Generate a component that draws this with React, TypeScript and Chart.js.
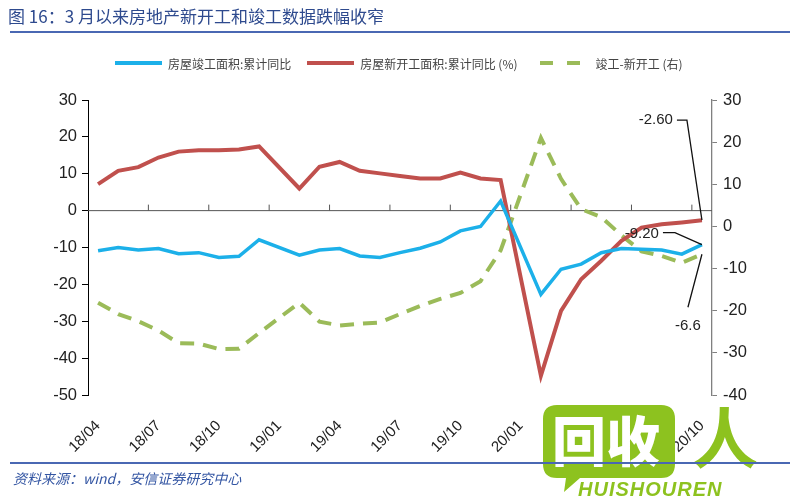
import React, { useEffect, useRef } from "react";
import { Chart, registerables } from "chart.js";

Chart.register(...registerables);

const months = [
  "18/04", "18/05", "18/06", "18/07", "18/08", "18/09", "18/10", "18/11", "18/12",
  "19/01", "19/02", "19/03", "19/04", "19/05", "19/06", "19/07", "19/08", "19/09", "19/10", "19/11", "19/12",
  "20/01", "20/02", "20/03", "20/04", "20/05", "20/06", "20/07", "20/08", "20/09", "20/10",
];

// 房屋竣工面积:累计同比 (left axis)
const completionYoY: (number | null)[] = [
  -10.9, -10.0, -10.7, -10.3, -11.7, -11.4, -12.7, -12.4, -7.9,
  null, -12.1, -10.7, -10.3, -12.3, -12.7, -11.4, -10.2, -8.5, -5.5, -4.3, 2.6,
  null, -22.7, -15.9, -14.5, -11.4, -10.3, -10.5, -10.7, -11.8, -9.2,
];

// 房屋新开工面积:累计同比 (%) (left axis)
const newStartYoY: (number | null)[] = [
  7.2, 10.8, 11.8, 14.4, 16.0, 16.4, 16.4, 16.6, 17.4,
  null, 6.0, 11.9, 13.2, 10.8, 10.1, 9.4, 8.7, 8.7, 10.3, 8.7, 8.3,
  null, -44.8, -27.2, -18.6, -13.6, -8.2, -4.6, -3.7, -3.2, -2.6,
];

// 竣工-新开工 (右)
const gapRight: (number | null)[] = [
  -18.1, -20.8, -22.5, -24.7, -27.7, -27.8, -29.1, -29.0, -25.3,
  null, -18.1, -22.6, -23.5, -23.1, -22.8, -20.8, -18.9, -17.2, -15.8, -13.0, -5.7,
  null, 21.0, 11.3, 4.1, 2.2, -2.1, -5.9, -7.0, -8.6, -6.6,
];

const leftMin = -50;
const leftMax = 30;
const rightMin = -40;
const rightMax = 30;
const tickStep = 10;

const seriesNames = ["房屋竣工面积:累计同比", "房屋新开工面积:累计同比 (%)", "竣工-新开工 (右)"];
const seriesColors = ["#1cb0e9", "#c0504d", "#9bbb59"];

const titleText = "图 16：3 月以来房地产新开工和竣工数据跌幅收窄";
const sourceText = "资料来源：wind，安信证券研究中心";

const zeroAxisPlugin = {
  id: "zeroAxis",
  beforeDatasetsDraw(chart: any) {
    const { ctx, chartArea, scales } = chart;
    const x = scales.x;
    const y = scales.y;
    const yz = y.getPixelForValue(0);
    ctx.save();
    ctx.strokeStyle = "#555";
    ctx.lineWidth = 1;
    ctx.beginPath();
    ctx.moveTo(chartArea.left, yz);
    ctx.lineTo(chartArea.right, yz);
    for (let i = 2; i < months.length - 1; i += 3) {
      const xb = (x.getPixelForValue(i) + x.getPixelForValue(i + 1)) / 2;
      ctx.moveTo(xb, yz);
      ctx.lineTo(xb, yz - 6);
    }
    ctx.stroke();
    ctx.restore();
  },
};

const annotatePlugin = {
  id: "annotate",
  afterDatasetsDraw(chart: any) {
    const { ctx, scales } = chart;
    const last = months.length - 1;
    const px = scales.x.getPixelForValue(last);
    const red = newStartYoY[last] as number;
    const blue = completionYoY[last] as number;
    const green = gapRight[last] as number;
    const pr = scales.y.getPixelForValue(red);
    const pb = scales.y.getPixelForValue(blue);
    const pg = scales.y1.getPixelForValue(green);
    ctx.save();
    ctx.strokeStyle = "#111";
    ctx.lineWidth = 1.3;
    ctx.beginPath();
    ctx.moveTo(px, pr);
    ctx.lineTo(px - 15, pr - 100);
    ctx.lineTo(px - 25, pr - 100);
    ctx.moveTo(px, pb);
    ctx.lineTo(px - 27, pb - 12);
    ctx.lineTo(px - 39, pb - 12);
    ctx.moveTo(px, pg);
    ctx.lineTo(px - 14, pg + 53);
    ctx.stroke();
    ctx.fillStyle = "#222";
    ctx.font = '15px "Liberation Sans", Arial, sans-serif';
    ctx.textBaseline = "middle";
    ctx.textAlign = "right";
    ctx.fillText(red.toFixed(2), px - 29, pr - 100);
    ctx.fillText(blue.toFixed(2), px - 43, pb - 11);
    ctx.textAlign = "center";
    ctx.fillText(green.toFixed(1), px - 14, pg + 72);
    ctx.restore();
  },
};

function LegendLine({ color, dashed }: { color: string; dashed?: boolean }) {
  if (dashed) {
    return (
      <span style={{ display: "inline-flex", width: 40, justifyContent: "space-between", marginRight: 16 }}>
        <span style={{ width: 13, height: 4, background: color, display: "inline-block" }} />
        <span style={{ width: 13, height: 4, background: color, display: "inline-block" }} />
      </span>
    );
  }
  return <span style={{ width: 47, height: 4, background: color, display: "inline-block", marginRight: 6 }} />;
}

export default function App() {
  const ref = useRef<HTMLCanvasElement>(null);

  useEffect(() => {
    if (!ref.current) return;
    const chart = new Chart(ref.current, {
      type: "line",
      data: {
        labels: months,
        datasets: [
          {
            label: seriesNames[0],
            data: completionYoY,
            borderColor: seriesColors[0],
            backgroundColor: seriesColors[0],
            borderWidth: 3.5,
            pointRadius: 0,
            spanGaps: true,
            yAxisID: "y",
          },
          {
            label: seriesNames[1],
            data: newStartYoY,
            borderColor: seriesColors[1],
            backgroundColor: seriesColors[1],
            borderWidth: 4,
            pointRadius: 0,
            spanGaps: true,
            yAxisID: "y",
          },
          {
            label: seriesNames[2],
            data: gapRight,
            borderColor: seriesColors[2],
            backgroundColor: seriesColors[2],
            borderWidth: 4,
            borderDash: [14, 9],
            pointRadius: 0,
            spanGaps: true,
            yAxisID: "y1",
          },
        ],
      },
      options: {
        animation: false,
        responsive: true,
        maintainAspectRatio: false,
        layout: { padding: { top: 100, left: 0, right: 0, bottom: 0 } },
        plugins: {
          legend: { display: false },
          tooltip: { enabled: false },
        },
        scales: {
          x: {
            type: "category",
            offset: true,
            grid: { display: false, drawTicks: false },
            border: { display: false },
            ticks: {
              autoSkip: false,
              minRotation: 45,
              maxRotation: 45,
              padding: 22,
              color: "#222",
              font: { family: '"Liberation Sans", Arial, sans-serif', size: 15 },
              callback: (_v: any, i: number) => (i % 3 === 0 ? months[i] : ""),
            },
            afterFit: (s: any) => {
              s.height = 105;
            },
          },
          y: {
            position: "left",
            min: leftMin,
            max: leftMax,
            grid: { drawOnChartArea: false, tickLength: 6, color: "#000" },
            border: { color: "#000", width: 1 },
            ticks: {
              stepSize: tickStep,
              padding: 5,
              color: "#222",
              font: { family: '"Liberation Sans", Arial, sans-serif', size: 16.5 },
            },
            afterFit: (s: any) => {
              s.width = 88;
            },
          },
          y1: {
            position: "right",
            min: rightMin,
            max: rightMax,
            grid: { drawOnChartArea: false, tickLength: 5, color: "#808080" },
            border: { color: "#808080", width: 1.3 },
            ticks: {
              stepSize: tickStep,
              padding: 6,
              color: "#222",
              font: { family: '"Liberation Sans", Arial, sans-serif', size: 16.5 },
            },
            afterFit: (s: any) => {
              s.width = 88;
            },
          },
        },
      },
      plugins: [zeroAxisPlugin, annotatePlugin],
    } as any);
    return () => chart.destroy();
  }, []);

  const cjk = '"Noto Sans CJK SC", "Liberation Sans", sans-serif';

  return (
    <div
      style={{
        position: "fixed",
        left: 0,
        top: 0,
        width: 800,
        height: 500,
        background: "#fff",
        overflow: "hidden",
        fontFamily: cjk,
      }}
    >
      <div style={{ position: "absolute", left: 0, top: 0, width: 800, height: 500 }}>
        <canvas ref={ref} />
      </div>
      <div
        style={{
          position: "absolute",
          left: 8,
          top: 4,
          fontSize: 17,
          color: "#2e4a8e",
          whiteSpace: "nowrap",
          lineHeight: "24px",
        }}
      >
        {titleText}
      </div>
      <div style={{ position: "absolute", left: 10, top: 31, width: 780, height: 2, background: "#4a68b3" }} />
      <div
        style={{
          position: "absolute",
          left: 115,
          top: 54,
          height: 18,
          display: "flex",
          alignItems: "center",
          fontSize: 12,
          color: "#444",
          whiteSpace: "nowrap",
        }}
      >
        <LegendLine color={seriesColors[0]} />
        <span style={{ marginRight: 16 }}>{seriesNames[0]}</span>
        <LegendLine color={seriesColors[1]} />
        <span style={{ marginRight: 22 }}>{seriesNames[1]}</span>
        <LegendLine color={seriesColors[2]} dashed />
        <span>{seriesNames[2]}</span>
      </div>
      <svg
        width={240}
        height={100}
        style={{ position: "absolute", left: 540, top: 400 }}
        viewBox="0 0 240 100"
      >
        <path
          d="M3 19 Q3 5 17 5 L121 5 Q135 5 135 19 L135 64 Q135 78 121 78 L40 78 L24 92 L26 78 L17 78 Q3 78 3 64 Z"
          fill="#8dc21f"
        />
        <text
          x={12}
          y={62}
          fill="#fff"
          fontSize={54}
          fontWeight={900}
          fontFamily={cjk}
        >
          回收
        </text>
        <text x={152} y={63} fill="#8dc21f" fontSize={66} fontWeight={700} fontFamily={cjk}>
          人
        </text>
        <text
          x={38}
          y={96}
          fill="#8dc21f"
          fontSize={20}
          fontWeight={700}
          fontStyle="italic"
          fontFamily='"Liberation Sans", Arial, sans-serif'
          letterSpacing={1}
        >
          HUISHOUREN
        </text>
      </svg>
      <div style={{ position: "absolute", left: 10, top: 462, width: 780, height: 2, background: "#4a68b3" }} />
      <div
        style={{
          position: "absolute",
          left: 13,
          top: 468,
          fontSize: 14,
          fontStyle: "italic",
          color: "#3456a3",
          whiteSpace: "nowrap",
          lineHeight: "20px",
        }}
      >
        {sourceText}
      </div>
    </div>
  );
}
